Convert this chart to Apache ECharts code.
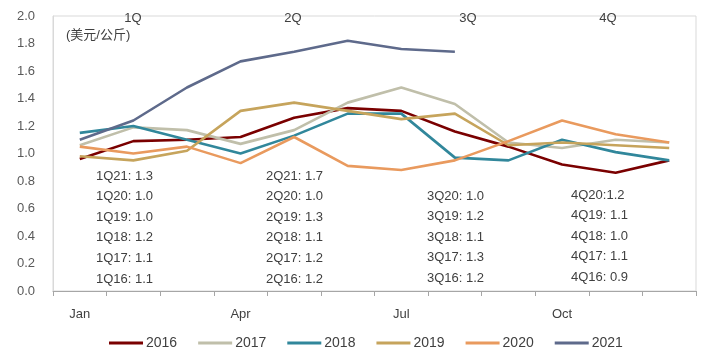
<!DOCTYPE html>
<html><head><meta charset="utf-8">
<script src="https://cdn.jsdelivr.net/npm/echarts/dist/echarts.min.js"></script>
<style>html,body{margin:0;padding:0;background:#fff}#c{width:707px;height:357px}</style>
</head><body><div id="c"></div>
<script>
const months = ['Jan','Feb','Mar','Apr','May','Jun','Jul','Aug','Sep','Oct','Nov','Dec'];
const shownMonths = ['Jan','Apr','Jul','Oct'];
const quarterLabels = ['1Q','2Q','3Q','4Q'];
const unitLabel = '(美元/公斤)';
const years = ['2016','2017','2018','2019','2020','2021'];
const s2016 = [0.96,1.09,1.10,1.12,1.26,1.33,1.31,1.16,1.05,0.92,0.86,0.95];
const s2017 = [1.06,1.19,1.17,1.07,1.17,1.37,1.48,1.36,1.08,1.04,1.10,1.08];
const s2018 = [1.15,1.20,1.10,1.00,1.13,1.29,1.29,0.97,0.95,1.10,1.01,0.95];
const s2019 = [0.98,0.95,1.02,1.31,1.37,1.31,1.25,1.29,1.06,1.08,1.06,1.04];
const s2020 = [1.05,1.00,1.05,0.93,1.12,0.91,0.88,0.95,1.09,1.24,1.14,1.08];
const s2021 = [1.10,1.24,1.48,1.67,1.74,1.82,1.76,1.74];
const q1Notes = ['1Q21: 1.3','1Q20: 1.0','1Q19: 1.0','1Q18: 1.2','1Q17: 1.1','1Q16: 1.1'];
const q2Notes = ['2Q21: 1.7','2Q20: 1.0','2Q19: 1.3','2Q18: 1.1','2Q17: 1.2','2Q16: 1.2'];
const q3Notes = ['3Q20: 1.0','3Q19: 1.2','3Q18: 1.1','3Q17: 1.3','3Q16: 1.2'];
const q4Notes = ['4Q20:1.2','4Q19: 1.1','4Q18: 1.0','4Q17: 1.1','4Q16: 0.9'];

const seriesData = [s2016,s2017,s2018,s2019,s2020,s2021];
const colors = ['#7A0000','#C0BFAA','#31879B','#C6A45C','#E99A5E','#5E6A8B'];
const FONT = 'Liberation Sans, Arial, sans-serif';

const chart = echarts.init(document.getElementById('c'));
const graphics = [];
function addText(x, y, t, extra){
  graphics.push(Object.assign({type:'text', x:x, y:y, silent:true,
    style:{text:t, fill:'#404040', font:'13px ' + FONT, textVerticalAlign:'middle'}}, extra||{}));
}
const qx = [133, 293, 468, 608];
quarterLabels.forEach((q,i)=>addText(qx[i], 18, q, {style:{text:q, fill:'#404040', font:'13px '+FONT, textAlign:'center', textVerticalAlign:'middle'}}));
addText(66, 35, unitLabel, {style:{text:unitLabel, fill:'#404040', font:'13px "Liberation Sans", "Noto Sans CJK SC", sans-serif', textVerticalAlign:'middle'}});
q1Notes.forEach((t,i)=>addText(96, 176 + i*20.6, t));
q2Notes.forEach((t,i)=>addText(266, 176 + i*20.6, t));
q3Notes.forEach((t,i)=>addText(427, 196.5 + i*20.4, t));
q4Notes.forEach((t,i)=>addText(571, 195.5 + i*20.4, t));

chart.setOption({
  animation:false,
  color: colors,
  grid:{left:53, right:11, top:16, bottom:66, show:true, borderColor:'#D9D9D9', borderWidth:1},
  legend:{
    left:104, top:331, icon:'rect', itemWidth:34, itemHeight:3, itemGap:21,
    textStyle:{fontFamily:FONT, fontSize:14, color:'#404040', padding:[0,0,0,-2]},
    data: years
  },
  xAxis:{
    type:'category', data:months, boundaryGap:true,
    axisLine:{lineStyle:{color:'#A6A6A6'}},
    axisTick:{show:true, interval:0, length:5, lineStyle:{color:'#A6A6A6'}},
    axisLabel:{
      interval:0, margin:17, color:'#404040', fontFamily:FONT, fontSize:13,
      formatter:(v)=> shownMonths.indexOf(v) >= 0 ? v : ''
    },
    splitLine:{show:false}
  },
  yAxis:{
    type:'value', min:0, max:2, interval:0.2,
    axisLine:{show:true, lineStyle:{color:'#D9D9D9'}},
    axisTick:{show:false},
    splitLine:{show:false},
    axisLabel:{margin:18, color:'#595959', fontFamily:FONT, fontSize:13, formatter:(v)=>v.toFixed(1)}
  },
  series: years.map((y,i)=>({
    name:y, type:'line', data:seriesData[i], showSymbol:false, symbol:'none',
    lineStyle:{width:2.6, color:colors[i]}, itemStyle:{color:colors[i]}
  })),
  graphic: graphics
});
</script>
</body></html>
